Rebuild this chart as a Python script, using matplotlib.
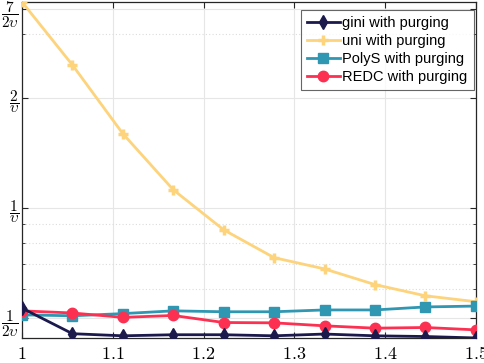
import matplotlib
matplotlib.use("Agg")
import matplotlib.pyplot as plt

plt.rcParams["mathtext.fontset"] = "cm"

# data (y in units of 1/v, log scale)
x = [1 + k / 18 for k in range(10)]
gini = [0.531, 0.452, 0.446, 0.449, 0.449, 0.446, 0.451, 0.446, 0.444, 0.440]
uni = [3.66, 2.46, 1.595, 1.12, 0.87, 0.73, 0.68, 0.616, 0.574, 0.553]
polys = [0.509, 0.506, 0.513, 0.522, 0.519, 0.519, 0.525, 0.525, 0.535, 0.538]
redc = [0.522, 0.515, 0.501, 0.507, 0.485, 0.484, 0.475, 0.468, 0.470, 0.463]

xticks = [1, 1.1, 1.2, 1.3, 1.4, 1.5]
xlabels = ["$1$", "$1.1$", "$1.2$", "$1.3$", "$1.4$", "$1.5$"]
yticks = [0.5, 1, 2, 3.5]
ylabels = [r"$\dfrac{1}{2\upsilon}$", r"$\dfrac{1}{\upsilon}$",
           r"$\dfrac{2}{\upsilon}$", r"$\dfrac{7}{2\upsilon}$"]
yminor = [0.6, 0.7, 0.8, 0.9, 3]

fig = plt.figure(figsize=(4.85, 3.63), dpi=100)
ax = fig.add_axes([0.0454, 0.069, 0.9356, 0.9255])

ax.plot(x, gini, color="#1c1a4c", marker="d", ms=7, lw=2, label="gini with purging", zorder=5)
ax.plot(x, uni, color="#fdd37c", marker="+", ms=7, mew=2.5, lw=2, label="uni with purging", zorder=3)
ax.plot(x, polys, color="#2f97b1", marker="s", ms=6.5, lw=2, label="PolyS with purging", zorder=4)
ax.plot(x, redc, color="#fc3152", marker="o", ms=7.5, lw=2, label="REDC with purging", zorder=4)

ax.set_yscale("log")
ax.set_xlim(1, 1.5)
ax.set_ylim(min(gini), max(uni))
ax.set_xticks(xticks)
ax.set_xticklabels(xlabels, fontsize=13)
ax.set_yticks(yticks)
ax.set_yticks(yminor, minor=True)
ax.set_yticklabels([], minor=True)
ax.set_yticklabels(ylabels)
for t in ax.get_yticklabels():
    t.set_fontsize(11)

ax.grid(True, which="major", color="#e6e6e6", lw=0.8)
ax.grid(True, which="minor", axis="y", color="#dcdcdc", lw=0.8, ls=(0, (1, 2)))
ax.set_axisbelow(True)
ax.tick_params(which="both", direction="in", top=True, right=True, color="#262626")
ax.tick_params(which="major", length=4)
ax.tick_params(axis="x", pad=5)
ax.tick_params(axis="y", pad=2)
ax.tick_params(which="minor", length=2)
for s in ax.spines.values():
    s.set_color("#262626")
    s.set_linewidth(0.9)

leg = ax.legend(loc="upper right", prop={"family": "Liberation Sans", "size": 10.5},
                fancybox=False, edgecolor="#404040", handlelength=2.3,
                borderpad=0.42, labelspacing=0.28, handletextpad=0.15,
                borderaxespad=0, bbox_to_anchor=(0.9955, 0.977))
leg.get_frame().set_linewidth(0.8)

fig.savefig("out.png", dpi=100)
